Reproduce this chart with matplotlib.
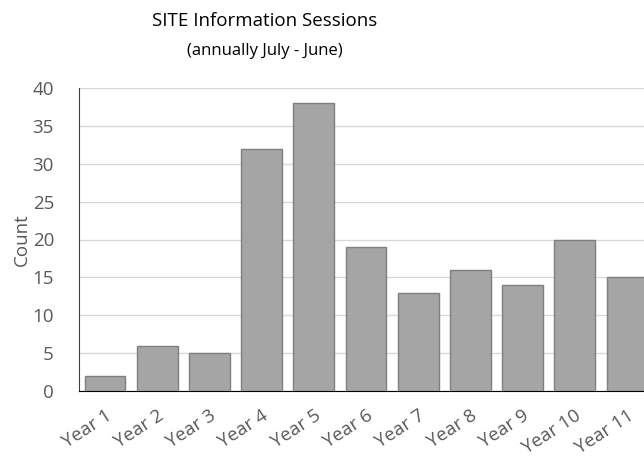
import matplotlib
matplotlib.use("Agg")
import matplotlib.pyplot as plt

categories = ["Year 1", "Year 2", "Year 3", "Year 4", "Year 5", "Year 6",
              "Year 7", "Year 8", "Year 9", "Year 10", "Year 11"]
counts = [2, 6, 5, 32, 38, 19, 13, 16, 14, 20, 15]
yticks = [0, 5, 10, 15, 20, 25, 30, 35, 40]

plt.rcParams['font.family'] = ['Open Sans', 'DejaVu Sans']

W, H = 644, 458
fig = plt.figure(figsize=(W / 100, H / 100), dpi=100)
left_px, right_px = 79, 653
bottom_px, top_px = 391, 88
ax = fig.add_axes([left_px / W, (H - bottom_px) / H,
                   (right_px - left_px) / W, (bottom_px - top_px) / H])

x = list(range(len(categories)))
ax.bar(x, counts, width=0.78, color='#A5A5A5', edgecolor='#7F7F7F',
       linewidth=1.0, zorder=3)
ax.set_xlim(-0.5, len(categories) - 0.5)
ax.set_ylim(0, 40)
ax.set_yticks(yticks)
ax.yaxis.grid(True, color='#D9D9D9', linewidth=1.0, zorder=0)
ax.set_axisbelow(True)
for s in ['top', 'right']:
    ax.spines[s].set_visible(False)
ax.spines['left'].set_color('#404040')
ax.spines['bottom'].set_color('#000000')
ax.tick_params(axis='both', length=0, colors='#595959', labelsize=13.5)
ax.tick_params(axis='y', pad=18)
ax.set_xticks(x)
ax.set_xticklabels(categories, rotation=33, ha='right', rotation_mode='anchor')
ax.tick_params(axis='x', pad=11)
ax.set_ylabel('Count', color='#595959', fontsize=13.5, labelpad=1)

cx = 265 / W
fig.text(cx, 1 - 21 / H, 'SITE Information Sessions', ha='center', va='center',
         fontsize=13.5, color='#000000')
fig.text(cx, 1 - 51 / H, '(annually July - June)', ha='center', va='center',
         fontsize=12, color='#000000')

fig.savefig('out.png', dpi=100)
